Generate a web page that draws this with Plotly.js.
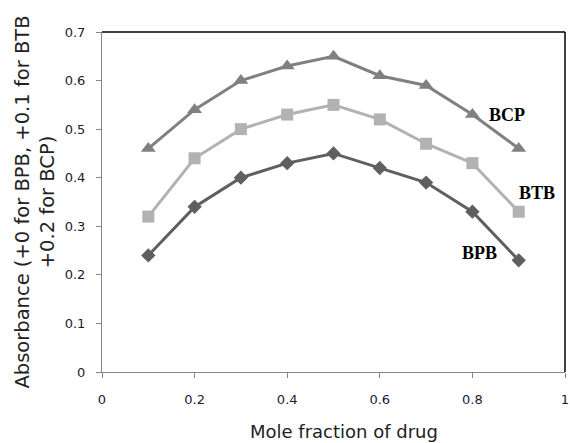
<!DOCTYPE html>
<html><head><meta charset="utf-8">
<script src="https://cdn.plot.ly/plotly-3.0.1.min.js"></script>
<style>html,body{margin:0;padding:0;background:#fff}#chart{width:570px;height:443px}</style>
</head><body><div id="chart"></div>
<script>
const moleFraction = [0.1, 0.2, 0.3, 0.4, 0.5, 0.6, 0.7, 0.8, 0.9];
const bcp = [0.46, 0.54, 0.60, 0.63, 0.65, 0.61, 0.59, 0.53, 0.46];
const btb = [0.32, 0.44, 0.50, 0.53, 0.55, 0.52, 0.47, 0.43, 0.33];
const bpb = [0.24, 0.34, 0.40, 0.43, 0.45, 0.42, 0.39, 0.33, 0.23];
const seriesNames = ['BCP', 'BTB', 'BPB'];
const xTicks = [0, 0.2, 0.4, 0.6, 0.8, 1];
const yTicks = [0, 0.1, 0.2, 0.3, 0.4, 0.5, 0.6, 0.7];
const xTitle = 'Mole fraction of drug';
const yTitle = 'Absorbance (+0 for BPB, +0.1 for BTB<br>+0.2 for BCP)';

const traces = [
  {x: moleFraction, y: bcp, name: seriesNames[0], mode: 'lines+markers',
   line: {color: '#808080', width: 3}, marker: {symbol: 'triangle-up', size: 13, color: '#808080'}},
  {x: moleFraction, y: btb, name: seriesNames[1], mode: 'lines+markers',
   line: {color: '#b2b2b2', width: 3}, marker: {symbol: 'square', size: 12, color: '#b2b2b2'}},
  {x: moleFraction, y: bpb, name: seriesNames[2], mode: 'lines+markers',
   line: {color: '#5f5f5f', width: 3}, marker: {symbol: 'diamond', size: 11, color: '#5f5f5f'}}
];

const labelFont = {family: 'Liberation Serif, Times New Roman, serif', size: 18, color: '#000'};
const layout = {
  width: 570, height: 443,
  margin: {l: 102, r: 5, t: 32, b: 71},
  paper_bgcolor: '#fff', plot_bgcolor: '#fff',
  showlegend: false,
  xaxis: {
    range: [0, 1], tickvals: xTicks, ticktext: xTicks.map(String),
    showgrid: false, zeroline: false, showline: true, linecolor: '#868686', linewidth: 1,
    ticks: 'outside', ticklen: 5, tickcolor: '#868686', ticklabelstandoff: 10,
    tickfont: {family: 'DejaVu Sans, Tahoma, sans-serif', size: 13, color: '#1a1a3a'}
  },
  yaxis: {
    range: [0, 0.7], tickvals: yTicks, ticktext: yTicks.map(String),
    showgrid: false, zeroline: false, showline: true, linecolor: '#868686', linewidth: 1,
    ticks: 'outside', ticklen: 5, tickcolor: '#868686', ticklabelstandoff: 8,
    tickfont: {family: 'DejaVu Sans, Tahoma, sans-serif', size: 13, color: '#1a1a3a'},
    title: {text: yTitle, standoff: 4,
            font: {family: 'DejaVu Sans, Arial, sans-serif', size: 19.5, color: '#222'}}
  },
  shapes: [
    {type: 'line', xref: 'paper', yref: 'paper', x0: 0, x1: 1, y0: 1, y1: 1, line: {color: '#000', width: 1.5}},
    {type: 'line', xref: 'paper', yref: 'paper', x0: 1, x1: 1, y0: 0, y1: 1, line: {color: '#000', width: 1.5}}
  ],
  annotations: [
    {x: 0.875, y: 0.529, text: '<b>' + seriesNames[0] + '</b>', showarrow: false, font: labelFont},
    {x: 0.94, y: 0.368, text: '<b>' + seriesNames[1] + '</b>', showarrow: false, font: labelFont},
    {x: 0.816, y: 0.245, text: '<b>' + seriesNames[2] + '</b>', showarrow: false, font: labelFont},
    {xref: 'paper', yref: 'paper', x: 0.523, y: -0.176, yanchor: 'middle', xanchor: 'center',
     text: xTitle, showarrow: false,
     font: {family: 'DejaVu Sans, Tahoma, sans-serif', size: 18, color: '#222'}}
  ]
};
Plotly.newPlot('chart', traces, layout, {staticPlot: true, displayModeBar: false});
</script></body></html>
